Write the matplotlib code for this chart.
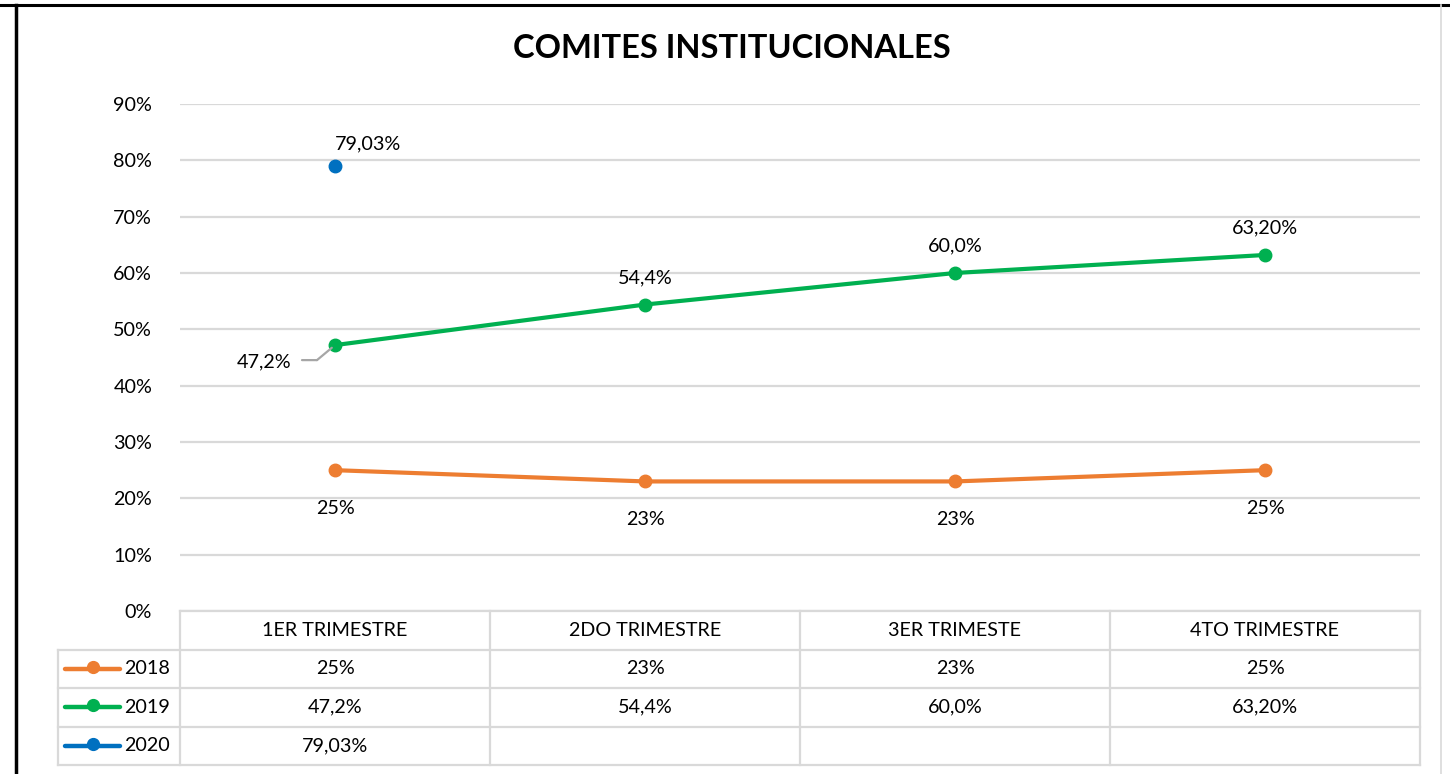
import numpy as np
import matplotlib
matplotlib.use("Agg")
import matplotlib.pyplot as plt
from matplotlib.lines import Line2D
from matplotlib.ticker import PercentFormatter
from matplotlib.transforms import offset_copy

plt.rcParams['font.family'] = ['Lato', 'DejaVu Sans']

# ---- data ----
quarters = ["1ER TRIMESTRE", "2DO TRIMESTRE", "3ER TRIMESTE", "4TO TRIMESTRE"]
series_names = ["2018", "2019", "2020"]
v2018 = [0.25, 0.23, 0.23, 0.25]
v2019 = [0.472, 0.544, 0.600, 0.632]
v2020 = [0.7903, np.nan, np.nan, np.nan]
lab2018 = ["25%", "23%", "23%", "25%"]
lab2019 = ["47,2%", "54,4%", "60,0%", "63,20%"]
lab2020 = ["79,03%", "", "", ""]
yticks = [0, 0.1, 0.2, 0.3, 0.4, 0.5, 0.6, 0.7, 0.8, 0.9]

colors = ["#ED7D31", "#00B050", "#0070C0"]
grid_c = "#D9D9D9"
FS = 14.2

W, H = 1450, 774
fig = plt.figure(figsize=(W / 100, H / 100), dpi=100)

def fx(px):
    return px / W

def fy(py):
    return 1 - py / H

# main axes
x0, x1 = 180, 1420
ytop, ybot = 104, 611
ax = fig.add_axes([fx(x0), fy(ybot), fx(x1) - fx(x0), fy(ytop) - fy(ybot)])
x = np.arange(len(quarters))
ax.set_xlim(-0.5, len(quarters) - 0.5)
ax.set_ylim(0, 0.9)
ax.set_yticks(yticks)
ax.yaxis.set_major_formatter(PercentFormatter(1.0, decimals=0))
ax.tick_params(axis='y', length=0, pad=20, labelsize=FS)
ax.set_xticks([])
for s in ax.spines.values():
    s.set_visible(False)
ax.grid(axis='y', color=grid_c, linewidth=1.6)
ax.set_axisbelow(True)

lw, ms = 3.0, 9
ax.plot(x, v2018, color=colors[0], lw=lw, marker='o', ms=ms, solid_capstyle='round')
ax.plot(x, v2019, color=colors[1], lw=lw, marker='o', ms=ms, solid_capstyle='round')
ax.plot(x, v2020, color=colors[2], lw=lw, marker='o', ms=ms)

for i, (v, t) in enumerate(zip(v2018, lab2018)):
    ax.annotate(t, (i, v), xytext=(0, -38), textcoords='offset pixels',
                ha='center', va='center', fontsize=FS)
for i, (v, t) in enumerate(zip(v2019, lab2019)):
    if i == 0:
        ax.annotate(t, (i, v), xytext=(-71, -17), textcoords='offset pixels',
                    ha='center', va='center', fontsize=FS)
        # leader line: diagonal part
        ax.annotate("", xy=(i, v), xytext=(-18, -15), textcoords='offset pixels',
                    arrowprops=dict(arrowstyle='-', color='#A6A6A6', lw=1.6,
                                    shrinkA=0, shrinkB=3))
        # leader line: horizontal part
        ax.annotate("", xy=(i, v),
                    xycoords=offset_copy(ax.transData, fig=fig, x=-18, y=-15, units='dots'),
                    xytext=(-15, 0), textcoords='offset pixels',
                    arrowprops=dict(arrowstyle='-', color='#A6A6A6', lw=1.6,
                                    shrinkA=0, shrinkB=0))
    else:
        ax.annotate(t, (i, v), xytext=(0, 27), textcoords='offset pixels',
                    ha='center', va='center', fontsize=FS)
for i, (v, t) in enumerate(zip(v2020, lab2020)):
    if t:
        ax.annotate(t, (i, v), xytext=(33, 22), textcoords='offset pixels',
                    ha='center', va='center', fontsize=FS)

# ---- data table ----
tx0, ty0, ty1 = 58, 611, 765
tab = fig.add_axes([fx(tx0), fy(ty1), fx(x1) - fx(tx0), fy(ty0) - fy(ty1)])
legw = (x0 - tx0) / 310.0
tab.set_xlim(-0.5 - legw, len(quarters) - 0.5)
tab.set_ylim(4, 0)
tab.axis('off')
tc = "#D9D9D9"
tlw = 1.6
tab.plot([-0.5, len(quarters) - 0.5], [0, 0], color=tc, lw=tlw, clip_on=False)
for r in range(1, 5):
    tab.plot([-0.5 - legw, len(quarters) - 0.5], [r, r], color=tc, lw=tlw, clip_on=False)
for c in range(len(quarters) + 1):
    tab.plot([c - 0.5, c - 0.5], [0, 4], color=tc, lw=tlw, clip_on=False)
tab.plot([-0.5 - legw, -0.5 - legw], [1, 4], color=tc, lw=tlw, clip_on=False)

for i, q in enumerate(quarters):
    tab.text(i, 0.5, q, ha='center', va='center', fontsize=FS)
rows = [lab2018, lab2019, lab2020]
for r, (name, labs, col) in enumerate(zip(series_names, rows, colors), start=1):
    for i, t in enumerate(labs):
        if t:
            tab.text(i, r + 0.5, t, ha='center', va='center', fontsize=FS)
    lx0 = -0.5 - legw + 7 / 310
    lx1 = -0.5 - legw + 62 / 310
    tab.plot([lx0, lx1], [r + 0.5, r + 0.5], color=col, lw=3.2, solid_capstyle='round',
             clip_on=False)
    tab.plot([(lx0 + lx1) / 2], [r + 0.45], marker='o', color=col, ms=8.5, clip_on=False)
    tab.text(-0.5 - legw + 66 / 310, r + 0.5, name, ha='left', va='center', fontsize=FS)

# title
fig.text(fx(732), fy(49), "COMITES INSTITUCIONALES", ha='center', va='center',
         fontsize=23.5, fontweight='bold')

# chart frame
fig.add_artist(Line2D([0, 1], [fy(5), fy(5)], color='black', lw=2.2))
fig.add_artist(Line2D([fx(16), fx(16)], [0, fy(5)], color='black', lw=2.5))
fig.add_artist(Line2D([fx(1441), fx(1441)], [0, fy(5)], color='#D9D9D9', lw=1.2))

fig.savefig("out.png", dpi=100)
